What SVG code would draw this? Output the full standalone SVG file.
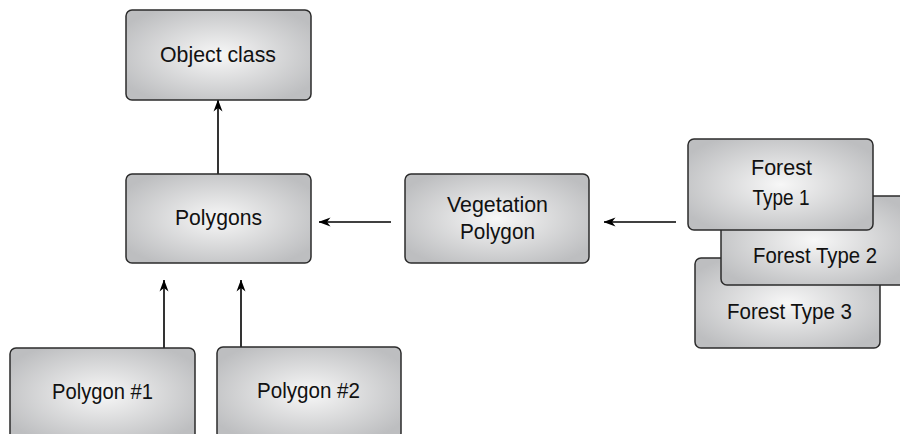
<svg xmlns="http://www.w3.org/2000/svg" width="900" height="434" viewBox="0 0 900 434">
  <defs>
    <radialGradient id="g" cx="50%" cy="50%" r="60%">
      <stop offset="0" stop-color="#f7f7f7"/>
      <stop offset="1" stop-color="#bdbec0"/>
    </radialGradient>
    <marker id="ah" viewBox="0 0 12 10" refX="11.5" refY="5" markerWidth="12" markerHeight="10" markerUnits="userSpaceOnUse" orient="auto">
      <path d="M0,0.5 L12,5 L0,9.5 L3.5,5 Z" fill="#000"/>
    </marker>
  </defs>
  <style>
    .box { fill: url(#g); stroke: #2b2b2b; stroke-width: 1.5; }
    .lbl { font-family: "Liberation Sans Narrow", "Liberation Sans", sans-serif; font-size: 21.5px; fill: #111; text-anchor: middle; }
    .conn { stroke: #000; stroke-width: 1.6; fill: none; marker-end: url(#ah); }
  </style>
  <rect width="900" height="434" fill="#fff"/>

  <g id="connectors">
    <line class="conn" x1="218" y1="174" x2="218" y2="100"/>
    <line class="conn" x1="164" y1="348" x2="164" y2="280"/>
    <line class="conn" x1="241" y1="347" x2="241" y2="280"/>
    <line class="conn" x1="391" y1="222" x2="319" y2="222"/>
    <line class="conn" x1="676" y1="222" x2="604" y2="222"/>
  </g>

  <g id="object-class">
    <rect class="box" x="126" y="10" width="185" height="90" rx="6"/>
    <text class="lbl" x="218" y="62" textLength="116" lengthAdjust="spacingAndGlyphs">Object class</text>
  </g>
  <g id="polygons">
    <rect class="box" x="126" y="174" width="185" height="89" rx="6"/>
    <text class="lbl" x="218.5" y="225" textLength="87" lengthAdjust="spacingAndGlyphs">Polygons</text>
  </g>
  <g id="vegetation-polygon">
    <rect class="box" x="405" y="174" width="184" height="89" rx="6"/>
    <text class="lbl" x="497.5" y="212" textLength="101" lengthAdjust="spacingAndGlyphs">Vegetation</text>
    <text class="lbl" x="497.5" y="239" textLength="75" lengthAdjust="spacingAndGlyphs">Polygon</text>
  </g>
  <g id="polygon-1">
    <rect class="box" x="10" y="348" width="185" height="92" rx="6"/>
    <text class="lbl" x="102.5" y="399" textLength="101" lengthAdjust="spacingAndGlyphs">Polygon #1</text>
  </g>
  <g id="polygon-2">
    <rect class="box" x="217" y="347" width="184" height="92" rx="6"/>
    <text class="lbl" x="308.5" y="398" textLength="103" lengthAdjust="spacingAndGlyphs">Polygon #2</text>
  </g>
  <g id="forest-type-3">
    <rect class="box" x="695" y="258" width="185" height="90" rx="6"/>
    <text class="lbl" x="789.5" y="319" textLength="125" lengthAdjust="spacingAndGlyphs">Forest Type 3</text>
  </g>
  <g id="forest-type-2">
    <rect class="box" x="721" y="196" width="186" height="89" rx="6"/>
    <text class="lbl" x="815" y="263" textLength="124" lengthAdjust="spacingAndGlyphs">Forest Type 2</text>
  </g>
  <g id="forest-type-1">
    <rect class="box" x="688" y="139" width="185" height="91" rx="6"/>
    <text class="lbl" x="781.5" y="175" textLength="61" lengthAdjust="spacingAndGlyphs">Forest</text>
    <text class="lbl" x="781" y="205" textLength="57" lengthAdjust="spacingAndGlyphs">Type 1</text>
  </g>
</svg>
